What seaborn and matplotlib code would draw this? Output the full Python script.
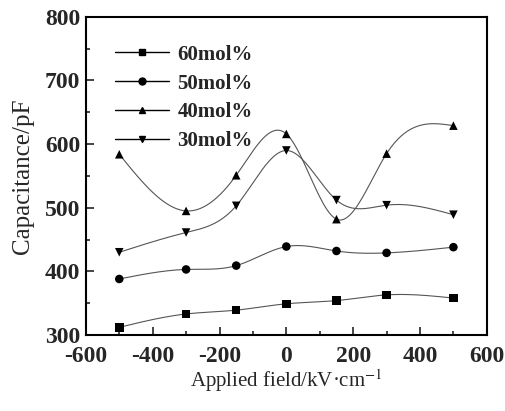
import numpy as np
import pandas as pd
import matplotlib
matplotlib.use("Agg")
import matplotlib.pyplot as plt
from matplotlib.lines import Line2D
from matplotlib.ticker import MultipleLocator
import seaborn as sns

# data
field = [-500, -300, -150, 0, 150, 300, 500]
cap_60 = [312, 333, 339, 349, 354, 363, 358]
cap_50 = [388, 403, 409, 439, 432, 429, 438]
cap_40 = [584, 495, 551, 616, 482, 585, 629]
cap_30 = [430, 461, 503, 590, 512, 504, 489]
labels = ["60mol%", "50mol%", "40mol%", "30mol%"]
markers = ["s", "o", "^", "v"]


def natural_spline(x, y, n=300):
    # smooth connecting curve (like Origin "spline" line)
    x = np.asarray(x, float)
    y = np.asarray(y, float)
    k = len(x)
    h = np.diff(x)
    A = np.zeros((k, k))
    r = np.zeros(k)
    A[0, 0] = A[-1, -1] = 1
    for i in range(1, k - 1):
        A[i, i - 1] = h[i - 1]
        A[i, i] = 2 * (h[i - 1] + h[i])
        A[i, i + 1] = h[i]
        r[i] = 3 * ((y[i + 1] - y[i]) / h[i] - (y[i] - y[i - 1]) / h[i - 1])
    c = np.linalg.solve(A, r)
    xs = np.linspace(x[0], x[-1], n)
    idx = np.clip(np.searchsorted(x, xs) - 1, 0, k - 2)
    b = (y[1:] - y[:-1]) / h - h * (2 * c[:-1] + c[1:]) / 3
    d = (c[1:] - c[:-1]) / (3 * h)
    dx = xs - x[idx]
    ys = y[idx] + b[idx] * dx + c[idx] * dx ** 2 + d[idx] * dx ** 3
    return xs, ys


sns.set_theme(style="ticks")
plt.rcParams["font.family"] = ["Liberation Serif", "DejaVu Serif"]
plt.rcParams["mathtext.fontset"] = "stix"
plt.rcParams["axes.unicode_minus"] = False

fig = plt.figure(figsize=(5.05, 4.11), dpi=100)
ax = fig.add_axes([0.170, 0.185, 0.794, 0.774])

series = [cap_60, cap_50, cap_40, cap_30]
df = pd.DataFrame({
    "field": field * 4,
    "cap": cap_60 + cap_50 + cap_40 + cap_30,
    "group": sum([[lab] * len(field) for lab in labels], []),
})

for vals in series:
    xs, ys = natural_spline(field, vals)
    ax.plot(xs, ys, color="#555555", lw=0.8, zorder=1)

sns.scatterplot(data=df, x="field", y="cap", style="group", markers=dict(zip(labels, markers)),
                color="black", s=38, edgecolor="black", linewidth=0, legend=False, ax=ax, zorder=2)

handles = [Line2D([], [], color="black", lw=1.0, marker=m, markersize=5) for m in markers]
ax.legend(handles, labels, loc="upper left", bbox_to_anchor=(0.047, 0.945), frameon=False,
          borderpad=0, handlelength=2.6, handletextpad=0.4, labelspacing=0.42,
          prop={"family": "Liberation Serif", "weight": "bold", "size": 15})

ax.set_xlim(-600, 600)
ax.set_ylim(300, 800)
ax.xaxis.set_major_locator(MultipleLocator(200))
ax.xaxis.set_minor_locator(MultipleLocator(100))
ax.yaxis.set_major_locator(MultipleLocator(100))
ax.yaxis.set_minor_locator(MultipleLocator(50))
ax.tick_params(which="both", direction="in", top=False, right=False, width=1.2)
ax.tick_params(which="major", length=6, labelsize=17)
ax.tick_params(axis="x", which="major", pad=8)
ax.tick_params(axis="y", which="major", pad=4)
ax.tick_params(which="minor", length=3)
for lab in ax.get_xticklabels() + ax.get_yticklabels():
    lab.set_fontweight("bold")
for sp in ax.spines.values():
    sp.set_linewidth(1.5)
    sp.set_color("black")

ax.set_xlabel("Applied field/kV·cm$^{-1}$", fontsize=15, labelpad=0)
ax.set_ylabel("Capacitance/pF", fontsize=18, labelpad=8)

fig.savefig("out.png", dpi=100)
